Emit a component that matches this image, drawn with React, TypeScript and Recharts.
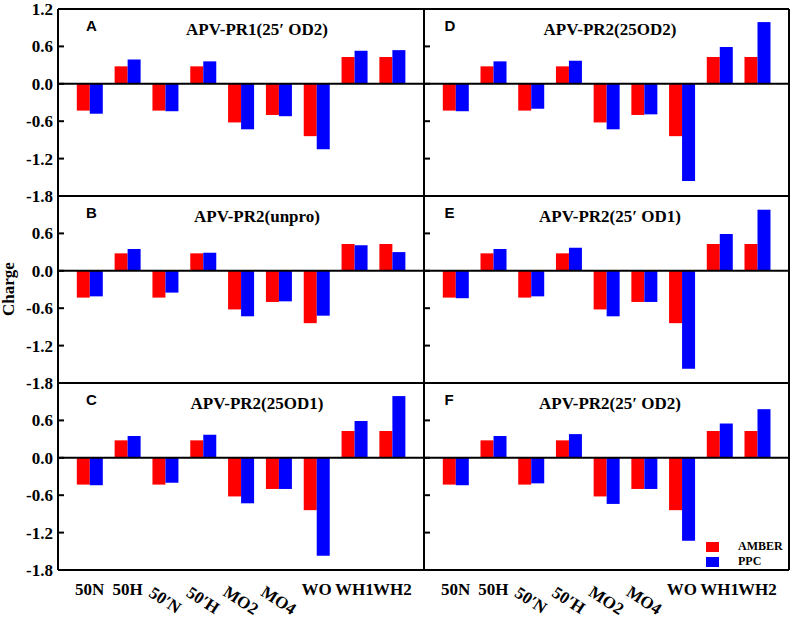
import { Bar, BarChart, Legend, ReferenceLine, XAxis, YAxis } from "recharts";

const categories = ["50N", "50H", "50′N", "50′H", "MO2", "MO4", "WO", "WH1", "WH2"];
const amber = [-0.43, 0.28, -0.43, 0.28, -0.62, -0.5, -0.84, 0.43, 0.43];

const ppcA = [-0.48, 0.39, -0.44, 0.36, -0.73, -0.52, -1.05, 0.53, 0.54];
const ppcB = [-0.41, 0.35, -0.35, 0.29, -0.73, -0.49, -0.72, 0.41, 0.3];
const ppcC = [-0.44, 0.35, -0.4, 0.37, -0.73, -0.5, -1.57, 0.59, 0.99];
const ppcD = [-0.44, 0.36, -0.4, 0.37, -0.73, -0.49, -1.56, 0.59, 0.99];
const ppcE = [-0.44, 0.35, -0.41, 0.37, -0.73, -0.5, -1.57, 0.59, 0.98];
const ppcF = [-0.44, 0.35, -0.41, 0.38, -0.74, -0.5, -1.33, 0.55, 0.78];

const yTicksTop = [1.2, 0.6, 0, -0.6, -1.2, -1.8];
const yTicks = [0.6, 0, -0.6, -1.2, -1.8];

const rotatedLabels = ["50′N", "50′H", "MO2", "MO4"];

const panels = [
  { letter: "A", title: "APV-PR1(25′ OD2)", ppc: ppcA, col: 0, row: 0 },
  { letter: "B", title: "APV-PR2(unpro)", ppc: ppcB, col: 0, row: 1 },
  { letter: "C", title: "APV-PR2(25OD1)", ppc: ppcC, col: 0, row: 2 },
  { letter: "D", title: "APV-PR2(25OD2)", ppc: ppcD, col: 1, row: 0 },
  { letter: "E", title: "APV-PR2(25′ OD1)", ppc: ppcE, col: 1, row: 1 },
  { letter: "F", title: "APV-PR2(25′ OD2)", ppc: ppcF, col: 1, row: 2 },
];

const serif = "'Liberation Serif', 'Times New Roman', serif";
const sans = "'Liberation Sans', Arial, sans-serif";
const axisLine = { stroke: "#000", strokeWidth: 2 };

function CategoryTick({ x, y, payload }: any) {
  const label = payload.value;
  const style = { fontFamily: serif, fontWeight: 700, fontSize: 17, fill: "#000" };
  if (rotatedLabels.includes(label)) {
    return (
      <g transform={`translate(${x},${y})`}>
        <text transform="translate(0,22) rotate(33)" textAnchor="middle" dy="0.35em" style={style}>
          {label}
        </text>
      </g>
    );
  }
  return (
    <text x={x} y={y + 17} textAnchor="middle" style={style}>
      {label}
    </text>
  );
}

function LegendBox({ payload }: any) {
  return (
    <div>
      {(payload || []).map((p: any) => (
        <div key={p.value} style={{ display: "flex", alignItems: "center", height: 15 }}>
          <span style={{ width: 13, height: 10, background: p.color, marginRight: 19 }} />
          <span style={{ fontFamily: serif, fontWeight: 700, fontSize: 12, color: "#000" }}>{p.value}</span>
        </div>
      ))}
    </div>
  );
}

function Panel({ letter, title, ppc, col, row }: any) {
  const plotX = col === 0 ? 58 : 424;
  const plotW = col === 0 ? 366 : 365;
  const plotY = 9 + row * 187;
  const plotH = 187;
  const width = 58 + plotW + 10;
  const height = 10 + plotH + 49;
  const data = categories.map((name, i) => ({ name, amber: amber[i], ppc: ppc[i] }));
  const bottom = row === 2;
  const ticks = row === 0 ? yTicksTop : yTicks;

  return (
    <div style={{ position: "absolute", left: plotX - 58, top: plotY - 10 }}>
      <BarChart
        width={width}
        height={height}
        data={data}
        barGap={0}
        margin={{ top: 9, right: 9, bottom: 0, left: 0 }}
      >
        <XAxis
          dataKey="name"
          height={49}
          padding={{ left: 12.8, right: 12.8 }}
          axisLine={axisLine}
          tickLine={false}
          interval={0}
          tick={bottom ? <CategoryTick /> : false}
        />
        <XAxis
          xAxisId="top"
          orientation="top"
          dataKey="name"
          height={1}
          padding={{ left: 12.8, right: 12.8 }}
          axisLine={axisLine}
          tickLine={false}
          tick={false}
        />
        <YAxis
          type="number"
          domain={[-1.8, 1.2]}
          ticks={ticks}
          interval={0}
          width={58}
          axisLine={axisLine}
          tickLine={{ stroke: "#000", strokeWidth: 2 }}
          tickSize={-6}
          tickMargin={11}
          tickFormatter={(v: number) => (col === 0 ? v.toFixed(1) : "")}
          tick={{ fontFamily: serif, fontWeight: 700, fontSize: 17, fill: "#000" }}
        />
        <YAxis
          yAxisId="r"
          orientation="right"
          type="number"
          domain={[-1.8, 1.2]}
          ticks={ticks}
          interval={0}
          width={1}
          axisLine={axisLine}
          tickLine={{ stroke: "#000", strokeWidth: 2 }}
          tickSize={-6}
          tickFormatter={() => ""}
        />
        <Bar dataKey="amber" name="AMBER" fill="#ff0000" barSize={13} isAnimationActive={false} />
        <Bar dataKey="ppc" name="PPC" fill="#0000ff" barSize={13} isAnimationActive={false} />
        <ReferenceLine y={0} stroke="#000" strokeWidth={2} />
        {letter === "F" && (
          <Legend
            layout="vertical"
            align="center"
            verticalAlign="middle"
            wrapperStyle={{ left: 340, top: 166, width: "auto" }}
            content={<LegendBox />}
          />
        )}
        <text
          x={col === 0 ? 86 : 78.5}
          y={32}
          style={{ fontFamily: sans, fontWeight: 700, fontSize: 15, fill: "#000" }}
        >
          {letter}
        </text>
        <text
          x={col === 0 ? 257 : 244}
          y={36}
          textAnchor="middle"
          style={{ fontFamily: serif, fontWeight: 700, fontSize: 17, fill: "#000" }}
        >
          {title}
        </text>
        {letter === "B" && (
          <text
            x={14}
            y={103}
            transform="rotate(-90 14 103)"
            textAnchor="middle"
            style={{ fontFamily: serif, fontWeight: 700, fontSize: 17, fill: "#000" }}
          >
            Charge
          </text>
        )}
      </BarChart>
    </div>
  );
}

export default function App() {
  return (
    <div style={{ position: "absolute", left: 0, top: 0, width: 794, height: 619, background: "#fff" }}>
      {panels.map((p) => (
        <Panel key={p.letter} {...p} />
      ))}
    </div>
  );
}
